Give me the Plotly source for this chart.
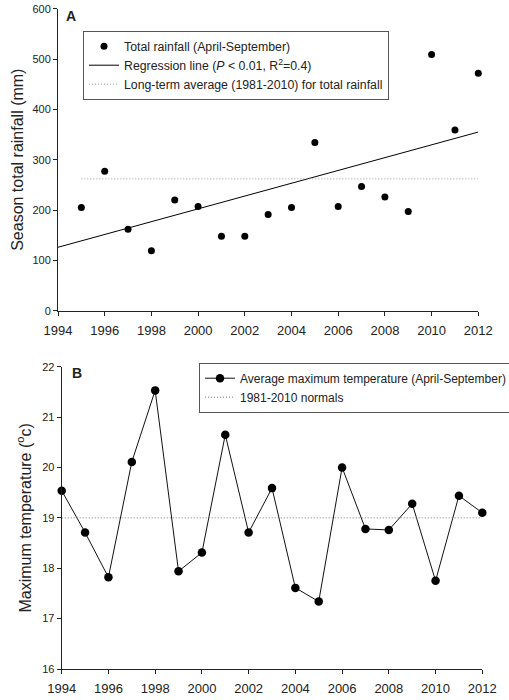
import plotly.graph_objects as go

# ---- Data ----
rain_years = [1995, 1996, 1997, 1998, 1999, 2000, 2001, 2002, 2003, 2004,
              2005, 2006, 2007, 2008, 2009, 2010, 2011, 2012]
rain_mm = [205, 277, 162, 119, 220, 207, 148, 148, 191, 205,
           334, 207, 247, 226, 197, 509, 359, 472]
reg_years = [1994, 2012]
reg_mm = [126, 355]
avg_years = [1995, 2012]
longterm_avg_mm = 262

temp_years = [1994, 1995, 1996, 1997, 1998, 1999, 2000, 2001, 2002, 2003,
              2004, 2005, 2006, 2007, 2008, 2009, 2010, 2011, 2012]
tmax_c = [19.54, 18.71, 17.82, 20.11, 21.53, 17.94, 18.31, 20.65, 18.71, 19.59,
          17.61, 17.34, 20.00, 18.78, 18.76, 19.28, 17.75, 19.44, 19.10]
normals_years = [1994, 2012]
normals_c = 19.0

x_ticks = [1994, 1996, 1998, 2000, 2002, 2004, 2006, 2008, 2010, 2012]
rain_ticks = [0, 100, 200, 300, 400, 500, 600]
temp_ticks = [16, 17, 18, 19, 20, 21, 22]

FONT = "Liberation Sans, Arial, sans-serif"
INK = "#222222"

fig = go.Figure()

# Panel A
fig.add_trace(go.Scatter(
    x=rain_years, y=rain_mm, mode="markers", name="Total rainfall (April-September)",
    marker=dict(color="black", size=7), xaxis="x", yaxis="y", legend="legend",
    cliponaxis=False))
fig.add_trace(go.Scatter(
    x=reg_years, y=reg_mm, mode="lines",
    name="Regression line (<i>P</i> < 0.01, R<sup>2</sup>=0.4)",
    line=dict(color="black", width=1), xaxis="x", yaxis="y", legend="legend"))
fig.add_trace(go.Scatter(
    x=avg_years, y=[longterm_avg_mm] * len(avg_years), mode="lines",
    name="Long-term average (1981-2010) for total rainfall",
    line=dict(color="#999999", width=1, dash="1px,2px"), xaxis="x", yaxis="y",
    legend="legend"))

# Panel B
fig.add_trace(go.Scatter(
    x=temp_years, y=tmax_c, mode="lines+markers",
    name="Average maximum temperature (April-September)",
    line=dict(color="#111111", width=1), marker=dict(color="black", size=8.5),
    xaxis="x2", yaxis="y2", legend="legend2", cliponaxis=False))
fig.add_trace(go.Scatter(
    x=normals_years, y=[normals_c] * len(normals_years), mode="lines",
    name="1981-2010 normals",
    line=dict(color="#777777", width=1, dash="1px,2px"),
    xaxis="x2", yaxis="y2", legend="legend2"))

axis_common = dict(
    showline=True, linecolor="#222222", linewidth=1, ticks="outside",
    ticklen=4, tickcolor="#222222", showgrid=False, zeroline=False,
    mirror=False,
)

fig.update_layout(
    width=509, height=700,
    margin=dict(l=0, r=0, t=0, b=0, autoexpand=False),
    paper_bgcolor="white", plot_bgcolor="white",
    font=dict(family=FONT, color=INK),
    xaxis=dict(domain=[58 / 509, 478.3 / 509], range=[1994, 2012],
               tickvals=x_ticks, tickfont=dict(size=13), anchor="y",
               ticklabelstandoff=4, **axis_common),
    yaxis=dict(domain=[1 - 310.7 / 700, 1 - 8.7 / 700], range=[0, 600],
               tickvals=rain_ticks, tickfont=dict(size=11), anchor="x",
               title=dict(text="Season total rainfall (mm)",
                          font=dict(size=16), standoff=4),
               **axis_common),
    xaxis2=dict(domain=[61.7 / 509, 482.3 / 509], range=[1994, 2012],
                tickvals=x_ticks, tickfont=dict(size=13), anchor="y2",
                ticklabelstandoff=3, **axis_common),
    yaxis2=dict(domain=[1 - 669 / 700, 1 - 366.7 / 700], range=[16, 22],
                tickvals=temp_ticks, tickfont=dict(size=11), anchor="x2",
                title=dict(text="Maximum temperature (<sup>o</sup>c)",
                           font=dict(size=16), standoff=6),
                **axis_common),
    legend=dict(x=83 / 509, y=1 - 30.7 / 700, xanchor="left", yanchor="top",
                bgcolor="white", bordercolor="#555555", borderwidth=1,
                font=dict(size=12.3, family=FONT, color=INK)),
    legend2=dict(x=199 / 509, y=1 - 362.7 / 700, xanchor="left", yanchor="top",
                 bgcolor="white", bordercolor="#555555", borderwidth=1,
                 font=dict(size=12, family=FONT, color=INK)),
    annotations=[
        dict(text="<b>A</b>", x=71 / 509, y=1 - 16 / 700, xref="paper",
             yref="paper", showarrow=False, font=dict(size=14, color=INK),
             xanchor="center", yanchor="middle"),
        dict(text="<b>B</b>", x=76.5 / 509, y=1 - 373 / 700, xref="paper",
             yref="paper", showarrow=False, font=dict(size=14, color=INK),
             xanchor="center", yanchor="middle"),
    ],
    showlegend=True,
)

fig.write_html("out.html")
